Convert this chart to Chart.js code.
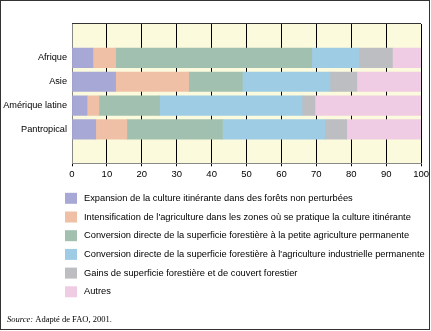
<!DOCTYPE html>
<html>
<head>
<meta charset="utf-8">
<script src="https://cdn.jsdelivr.net/npm/chart.js@4.4.1/dist/chart.umd.min.js"></script>
<style>
  body { margin: 0; background: #fff; }
  #wrap { width: 431px; height: 331px; position: relative; }
</style>
</head>
<body>
<div id="wrap"><canvas id="c" width="431" height="331"></canvas></div>
<script>
// valeurs (en %)
var categories = ['Afrique', 'Asie', 'Amérique latine', 'Pantropical'];
var expansion = [6.0, 12.5, 4.3, 6.8];
var intensification = [6.5, 20.9, 3.4, 8.9];
var petiteAgri = [56.2, 15.4, 17.4, 27.4];
var agriIndus = [13.4, 25.1, 40.8, 29.3];
var gains = [9.7, 7.7, 3.7, 6.3];
var autres = [8.2, 18.4, 30.4, 21.3];
var xTicks = [0, 10, 20, 30, 40, 50, 60, 70, 80, 90, 100];

var labels = [
	'Expansion de la culture itinérante dans des forêts non perturbées',
	"Intensification de l'agriculture dans les zones où se pratique la culture itinérante",
	'Conversion directe de la superficie forestière à la petite agriculture permanente',
	"Conversion directe de la superficie forestière à l'agriculture industrielle permanente",
	'Gains de superficie forestière et de couvert forestier',
	'Autres'
];
var colors = ['#a8a8d6', '#f0c0a6', '#a2c0b0', '#9ecce4', '#bdbec2', '#f0cce4'];
var series = [expansion, intensification, petiteAgri, agriIndus, gains, autres];

function toPoints(values)
{
	return values.map(function (v, i) { return { x: v, y: i }; });
}

var fond = {
	id: 'fond',
	beforeDraw: function (chart)
	{
		var a = chart.chartArea, ctx = chart.ctx;
		ctx.save();
		ctx.fillStyle = '#fbfadc';
		ctx.fillRect(a.left, a.top, a.right - a.left, a.bottom - a.top);
		ctx.strokeStyle = '#333';
		ctx.lineWidth = 1;
		ctx.beginPath();
		ctx.moveTo(a.left, a.top - 0.5);
		ctx.lineTo(a.right, a.top - 0.5);
		ctx.stroke();
		ctx.restore();
	},
	afterDraw: function (chart)
	{
		var ctx = chart.ctx;
		ctx.save();
		// légende
		ctx.font = '9.3px "Liberation Sans", Arial, sans-serif';
		ctx.textBaseline = 'middle';
		chart.data.datasets.forEach(function (ds, i)
		{
			var y = 198.3 + i * 18.7;
			ctx.fillStyle = ds.backgroundColor;
			ctx.fillRect(65, y - 5.5, 12, 11);
			ctx.fillStyle = '#000';
			ctx.fillText(ds.label, 84, y);
		});
		// source
		ctx.fillStyle = '#000';
		ctx.font = 'italic 8.5px "Liberation Serif", serif';
		ctx.fillText('Source:', 7, 320);
		var w = ctx.measureText('Source: ').width;
		ctx.font = '8.5px "Liberation Serif", serif';
		ctx.fillText('Adapté de FAO, 2001.', 7 + w, 320);
		// cadre
		ctx.strokeStyle = '#333';
		ctx.lineWidth = 1;
		ctx.strokeRect(0.5, 0.5, 429, 329);
		ctx.restore();
	}
};

var ctx = document.getElementById('c');
var myChart = new Chart(ctx,
{
	type: 'bar',
	data:
	{
		datasets: series.map(function (s, i)
		{
			return {
				label: labels[i],
				data: toPoints(s),
				backgroundColor: colors[i],
				borderWidth: 0,
				barThickness: 19.5
			};
		})
	},
	options:
	{
		indexAxis: 'y',
		responsive: false,
		animation: false,
		layout: { padding: { top: 24, right: 8.3, bottom: 147.7, left: 0 } },
		plugins:
		{
			legend: { display: false },
			tooltip: { enabled: false }
		},
		scales:
		{
			x:
			{
				type: 'linear',
				stacked: true,
				min: 0,
				max: 100,
				afterBuildTicks: function (s) { s.ticks = xTicks.map(function (v) { return { value: v }; }); },
				afterFit: function (s) { s.height = 20; },
				grid:
				{
					color: function (c) { return c.index === 0 ? '#888' : '#000'; },
					lineWidth: 1,
					tickLength: 3,
					tickColor: '#000'
				},
				border: { display: true, color: '#888', width: 1 },
				ticks:
				{
					color: '#000',
					padding: 2,
					maxRotation: 0,
					font: { family: '"Liberation Sans", Arial, sans-serif', size: 9.5 }
				}
			},
			y:
			{
				type: 'linear',
				stacked: true,
				reverse: true,
				min: -0.69,
				max: 3.69,
				afterBuildTicks: function (s) { s.ticks = categories.map(function (c, i) { return { value: i }; }); },
				afterFit: function (s) { s.width = 72; },
				grid: { display: false, drawTicks: false },
				border: { display: true, color: '#888', width: 1 },
				ticks:
				{
					color: '#000',
					padding: 5,
					callback: function (v) { return categories[v]; },
					font: { family: '"Liberation Sans", Arial, sans-serif', size: 9.2 }
				}
			}
		}
	},
	plugins: [fond]
});
</script>
</body>
</html>
